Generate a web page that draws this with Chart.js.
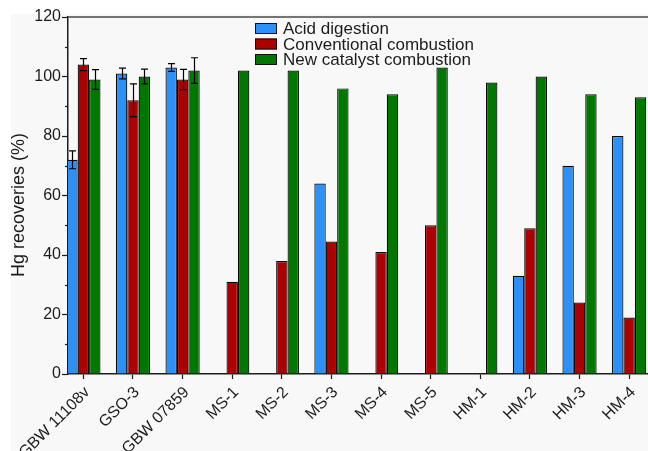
<!DOCTYPE html>
<html>
<head>
<meta charset="utf-8">
<script src="https://cdn.jsdelivr.net/npm/chart.js@4/dist/chart.umd.min.js"></script>
<style>
  html, body { margin: 0; padding: 0; background: #ffffff; overflow: hidden; }
  #wrap { width: 648px; height: 451px; }
</style>
</head>
<body>
<div id="wrap"><canvas id="c" width="648" height="451"></canvas></div>
<script>
// Samples (reference materials first, then the real samples)
const categories = ['GBW 11108v', 'GSO-3', 'GBW 07859', 'MS-1', 'MS-2', 'MS-3', 'MS-4', 'MS-5', 'HM-1', 'HM-2', 'HM-3', 'HM-4'];

// Hg recoveries (%) by method
const acidDigestion        = [72, 101, 103, null, null, 64, null, null, null, 33, 70, 80];
const conventionalCombust  = [104, 92, 99, 31, 38, 44.5, 41, 50, null, 49, 24, 19];
const newCatalystCombust   = [99, 100, 102, 102, 102, 96, 94, 103, 98, 100, 94, 93];

// Standard deviations (only the certified reference materials were replicated)
const acidDigestionErr       = [3, 1.8, 1.3, null, null, null, null, null, null, null, null, null];
const conventionalCombustErr = [2, 5.5, 3.4, null, null, null, null, null, null, null, null, null];
const newCatalystCombustErr  = [3.3, 2.5, 4.3, null, null, null, null, null, null, null, null, null];

const yTicks = [0, 20, 40, 60, 80, 100, 120];

const FONT = '"Liberation Sans", Arial, Helvetica, sans-serif';
const INK = '#1c1c1c';

const seriesErrors = [acidDigestionErr, conventionalCombustErr, newCatalystCombustErr];

const toPoints = arr => arr.map((v, i) => ({ x: i, y: v }));

const decorations = {
  id: 'decorations',
  beforeDraw(chart) {
    const { ctx, width, height } = chart;
    ctx.save();
    ctx.fillStyle = '#ffffff';
    ctx.fillRect(0, 0, width, height);
    ctx.fillStyle = '#f8f8f8';
    ctx.fillRect(11, 14, width - 11, height - 14);
    ctx.restore();
  },
  afterDraw(chart) {
    const { ctx, chartArea: a, scales: { y } } = chart;
    ctx.save();

    // frame line along the top of the plot
    ctx.strokeStyle = '#4a4a4a';
    ctx.lineWidth = 1.5;
    ctx.beginPath();
    ctx.moveTo(a.left, a.top);
    ctx.lineTo(a.right, a.top);
    ctx.stroke();

    // minor ticks on the value axis
    ctx.strokeStyle = INK;
    ctx.lineWidth = 1.2;
    for (let v = 10; v < 120; v += 20) {
      const py = Math.round(y.getPixelForValue(v)) + 0.5;
      ctx.beginPath();
      ctx.moveTo(a.left - 3, py);
      ctx.lineTo(a.left, py);
      ctx.stroke();
    }

    // error bars
    ctx.strokeStyle = '#000000';
    ctx.lineWidth = 1.2;
    chart.data.datasets.forEach((ds, d) => {
      const meta = chart.getDatasetMeta(d);
      const errs = seriesErrors[d];
      meta.data.forEach((bar, i) => {
        const v = ds.data[i].y;
        const e = errs[i];
        if (v == null || e == null) return;
        const x = Math.round(bar.x) + 0.5;
        const top = y.getPixelForValue(v + e);
        const bot = y.getPixelForValue(v - e);
        ctx.beginPath();
        ctx.moveTo(x, top); ctx.lineTo(x, bot);
        ctx.moveTo(x - 3.5, top); ctx.lineTo(x + 3.5, top);
        ctx.moveTo(x - 3.5, bot); ctx.lineTo(x + 3.5, bot);
        ctx.stroke();
      });
    });

    // legend
    ctx.font = '17px ' + FONT;
    ctx.textBaseline = 'alphabetic';
    ctx.textAlign = 'left';
    chart.data.datasets.forEach((ds, d) => {
      const by = 23 + d * 15.5;
      ctx.fillStyle = ds.backgroundColor;
      ctx.fillRect(255, by, 22, 11);
      ctx.strokeStyle = '#111111';
      ctx.lineWidth = 1;
      ctx.strokeRect(255.5, by + 0.5, 21, 10);
      ctx.fillStyle = INK;
      ctx.fillText(ds.label, 283, by + 11);
    });

    // value axis title
    ctx.translate(19, 205);
    ctx.rotate(-Math.PI / 2);
    ctx.font = '18px ' + FONT;
    ctx.textAlign = 'center';
    ctx.textBaseline = 'middle';
    ctx.fillStyle = INK;
    ctx.fillText('Hg recoveries (%)', 0, 0);

    ctx.restore();
  }
};

const barStyle = { borderColor: '#0a0a0a', borderWidth: 1.2, categoryPercentage: 0.69, barPercentage: 1.0 };

new Chart(document.getElementById('c'), {
  type: 'bar',
  data: {
    datasets: [
      { label: 'Acid digestion', data: toPoints(acidDigestion), backgroundColor: '#2b90f8', ...barStyle },
      { label: 'Conventional combustion', data: toPoints(conventionalCombust), backgroundColor: '#ad0000', ...barStyle },
      { label: 'New catalyst combustion', data: toPoints(newCatalystCombust), backgroundColor: '#007800', ...barStyle }
    ]
  },
  options: {
    responsive: false,
    animation: false,
    devicePixelRatio: 1,
    layout: { padding: { top: 17, left: 0, right: 0, bottom: 0 } },
    plugins: { legend: { display: false }, tooltip: { enabled: false } },
    scales: {
      x: {
        type: 'linear',
        min: -0.31,
        max: 11.38,
        offset: false,
        afterBuildTicks(s) { s.ticks = categories.map((_, i) => ({ value: i })); },
        ticks: {
          autoSkip: false,
          minRotation: 45,
          maxRotation: 45,
          padding: 4,
          labelOffset: 4,
          color: INK,
          font: { family: FONT, size: 16 },
          callback: v => categories[Math.round(v)] ?? ''
        },
        grid: { display: true, offset: false, drawOnChartArea: false, tickLength: 5, tickColor: INK, tickWidth: 1.2 },
        border: { display: true, color: INK, width: 1.5 },
        afterFit(s) { s.height = 77; s.paddingLeft = 0; s.paddingRight = 0; }
      },
      y: {
        min: 0,
        max: 120,
        afterBuildTicks(s) { s.ticks = yTicks.map(v => ({ value: v })); },
        ticks: { color: INK, padding: 1, font: { family: FONT, size: 16 } },
        grid: { display: true, drawOnChartArea: false, tickLength: 6, tickColor: INK, tickWidth: 1.2 },
        border: { display: true, color: INK, width: 1.5 },
        afterFit(s) { s.width = 68; s.paddingTop = 0; s.paddingBottom = 0; }
      }
    }
  },
  plugins: [decorations]
});
</script>
</body>
</html>
